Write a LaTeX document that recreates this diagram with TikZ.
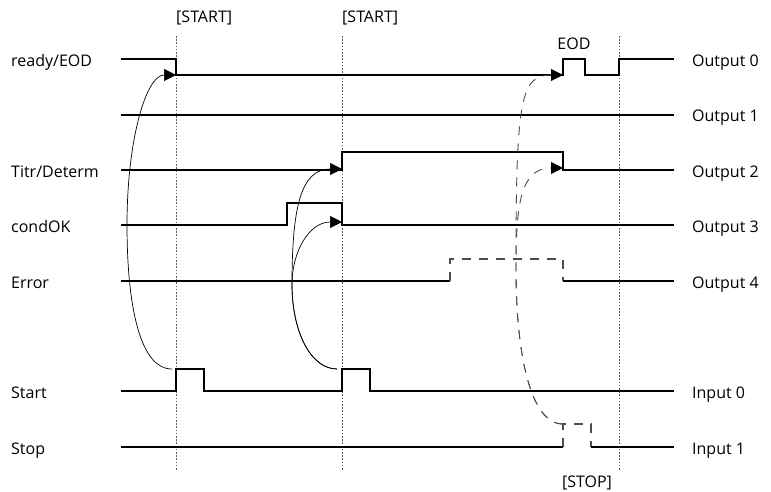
\documentclass[tikz,border=0pt]{standalone}
\usepackage{fontspec}
\setmainfont{Open Sans}
\usepackage{tikz}
\usetikzlibrary{arrows.meta}

\begin{document}
\begin{tikzpicture}[x=1pt,y=-1pt,
  signal/.style={line width=1.4pt,line join=miter},
  pulsedash/.style={line width=1.2pt,gray!60!black,dash pattern=on 9pt off 8pt},
  guide/.style={line width=1pt,gray!70!black,dash pattern=on 1.6pt off 1.6pt},
  flow/.style={line width=0.7pt,-{Triangle[length=12pt,width=12pt]}},
  flowdash/.style={line width=0.9pt,gray!60!black,dash pattern=on 9pt off 8pt,
    -{Triangle[length=12pt,width=12pt,color=black]}},
  lbl/.style={font=\fontsize{16}{19}\selectfont,inner sep=0pt,anchor=base west}]
  \useasboundingbox (0,0) rectangle (771,492);

  % Guides
  \draw[guide] (176,36) -- (176,470);
  \draw[guide] (342,36) -- (342,470);
  \draw[guide] (619,36) -- (619,470);
  \node[lbl] (start1) at (176,23) {[START]};
  \node[lbl] (start2) at (342,23) {[START]};
  \node[lbl,anchor=base] (eod) at (574,50) {EOD};
  \node[lbl,anchor=base] (stop) at (587,487) {[STOP]};

  % Signal names
  \node[lbl] (nready) at (11,67) {ready/EOD};
  \node[lbl] (ntitr) at (11,177) {Titr/Determ};
  \node[lbl] (ncond) at (11,232) {condOK};
  \node[lbl] (nerror) at (11,288) {Error};
  \node[lbl] (nstart) at (11,398) {Start};
  \node[lbl] (nstop) at (11,454) {Stop};

  % Outputs and inputs
  \node[lbl] (out0) at (692,67) {Output 0};
  \node[lbl] (out1) at (692,122) {Output 1};
  \node[lbl] (out2) at (692,177) {Output 2};
  \node[lbl] (out3) at (692,232) {Output 3};
  \node[lbl] (out4) at (692,288) {Output 4};
  \node[lbl] (in0) at (692,398) {Input 0};
  \node[lbl] (in1) at (692,454) {Input 1};

  % Waveforms
  \draw[signal] (121,59) -- (176,59) -- (176,75) -- (563,75) -- (563,59)
    -- (585,59) -- (585,75) -- (619,75) -- (619,59) -- (674,59);
  \draw[signal] (121,115) -- (674,115);
  \draw[signal] (121,170) -- (342,170) -- (342,152) -- (563,152) -- (563,170)
    -- (674,170);
  \draw[signal] (121,225) -- (287,225) -- (287,203) -- (342,203) -- (342,225)
    -- (674,225);
  \draw[signal] (121,281) -- (450,281);
  \draw[pulsedash] (450,281) -- (450,259) -- (563,259) -- (563,281);
  \draw[signal] (563,281) -- (674,281);
  \draw[signal] (121,391) -- (176,391) -- (176,369) -- (204,369) -- (204,391)
    -- (342,391) -- (342,369) -- (370,369) -- (370,391) -- (674,391);
  \draw[signal] (121,447) -- (563,447);
  \draw[pulsedash] (563,447) -- (563,424) -- (591,424) -- (591,447);
  \draw[signal] (591,447) -- (674,447);

  % Trigger points
  \coordinate (trig1) at (172,369);
  \coordinate (trig2) at (337,369);
  \coordinate (trig3) at (563,424);
  \coordinate (bend1) at (127,225);
  \coordinate (bend2) at (292,285);
  \coordinate (bend3) at (516,270);
  \coordinate (readyon) at (176,75);
  \coordinate (titron) at (342,169);
  \coordinate (condon) at (342,222);
  \coordinate (eodon) at (563,75);
  \coordinate (titroff) at (563,168);

  % Cause and effect
  \draw[flow] (trig1) .. controls +(-35,0) and +(0,70) .. (bend1)
    .. controls +(0,-85) and +(-30,0) .. (readyon);
  \draw[flow] (trig2) .. controls +(-27,0) and +(0,45) .. (bend2)
    .. controls +(0,-35) and +(-32,0) .. (condon);
  \draw[flow] (trig2) .. controls +(-27,0) and +(0,45) .. (bend2)
    .. controls +(0,-75) and +(-42,0) .. (titron);
  \draw[flowdash] (trig3) .. controls +(-35,0) and +(0,75) .. (bend3)
    .. controls +(0,-170) and +(-43,0) .. (eodon);
  \draw[flowdash] (trig3) .. controls +(-35,0) and +(0,75) .. (bend3)
    .. controls +(0,-65) and +(-43,0) .. (titroff);
\end{tikzpicture}
\end{document}
